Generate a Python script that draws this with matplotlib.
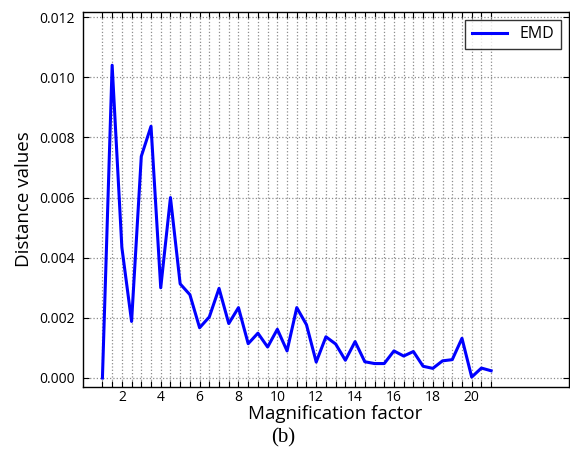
import matplotlib
matplotlib.use("Agg")
import matplotlib.pyplot as plt
import numpy as np

# magnification factors (1 to 21, step 0.5) and EMD distance values
factors = [1, 1.5, 2, 2.5, 3, 3.5, 4, 4.5, 5, 5.5, 6, 6.5, 7, 7.5, 8, 8.5, 9, 9.5,
           10, 10.5, 11, 11.5, 12, 12.5, 13, 13.5, 14, 14.5, 15, 15.5, 16, 16.5,
           17, 17.5, 18, 18.5, 19, 19.5, 20, 20.5, 21]
emd = [0.0000, 0.0104, 0.00434, 0.00188, 0.00737, 0.00837, 0.0030, 0.0060,
       0.00313, 0.00277, 0.00167, 0.00203, 0.00298, 0.00181, 0.00234, 0.00114,
       0.00149, 0.00103, 0.00162, 0.0009, 0.00234, 0.00177, 0.00053, 0.00137,
       0.00113, 0.00059, 0.00121, 0.00054, 0.00048, 0.00048, 0.0009, 0.00073,
       0.00088, 0.00039, 0.00032, 0.00057, 0.00061, 0.00132, 0.00003, 0.00033,
       0.00024]

xticks = np.arange(1, 21.5, 0.5)
xticklabels = [str(int(t)) if t % 2 == 0 else "" for t in xticks]
yticks = [0.000, 0.002, 0.004, 0.006, 0.008, 0.010, 0.012]
yticklabels = ["%.3f" % v for v in yticks]

plt.rcParams["font.family"] = ["Open Sans", "DejaVu Sans"]

fig = plt.figure(figsize=(5.7, 4.58), dpi=100)
ax = fig.add_axes([0.1456, 0.155, 0.8524, 0.8188])

ax.plot(factors, emd, color="#0000ff", linewidth=2.2, label="EMD")

ax.set_xlim(0, 25)
ax.set_ylim(-0.0003, 0.01217)
ax.set_xticks(xticks)
ax.set_xticklabels(xticklabels, fontsize=10)
ax.set_yticks(yticks)
ax.set_yticklabels(yticklabels, fontsize=10)

ax.tick_params(direction="in", top=True, right=True, length=4, width=0.8)
ax.tick_params(axis="x", pad=2)
ax.tick_params(axis="y", pad=6)
for s in ax.spines.values():
    s.set_linewidth(1.0)
    s.set_color("black")

ax.grid(True, linestyle=":", color="#8c8c8c", linewidth=0.9)

ax.set_xlabel("Magnification factor", fontsize=13.5)
ax.set_ylabel("Distance values", fontsize=13.5)
ax.xaxis.set_label_coords(0.52, -0.049)
ax.yaxis.set_label_coords(-0.103, 0.5)

leg = ax.legend(loc="upper right", fontsize=11.5, fancybox=False, handlelength=2.2,
                borderaxespad=0.5)
leg.get_frame().set_edgecolor("black")
leg.get_frame().set_linewidth(1.0)

fig.text(0.497, 0.043, "(b)", family="Liberation Serif", fontsize=15,
         ha="center", va="center")

fig.savefig("out.png", dpi=100)
